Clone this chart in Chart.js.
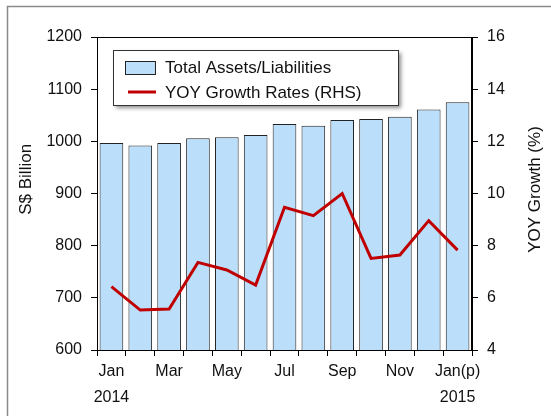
<!DOCTYPE html>
<html>
<head>
<meta charset="utf-8">
<script src="https://cdn.jsdelivr.net/npm/chart.js@4.4.1/dist/chart.umd.min.js"></script>
<style>
  html, body { margin: 0; padding: 0; background: #fff; }
  #wrap { width: 551px; height: 416px; }
</style>
</head>
<body>
<div id="wrap"><canvas id="chart" width="551" height="416"></canvas></div>
<script>
// months shown on the x axis
const months = ['Jan', 'Feb', 'Mar', 'Apr', 'May', 'Jun', 'Jul', 'Aug', 'Sep', 'Oct', 'Nov', 'Dec', 'Jan(p)'];
const years = ['2014', '', '', '', '', '', '', '', '', '', '', '', '2015'];

// S$ billion
const totalAssets = [997, 992, 997, 1006, 1008, 1012, 1033, 1030, 1041, 1043, 1047, 1061, 1075];
// percent, right hand side
const yoyGrowth = [6.43, 5.53, 5.57, 7.36, 7.07, 6.49, 9.47, 9.15, 10.0, 7.51, 7.64, 8.96, 7.83];

const barLabel = 'Total Assets/Liabilities';
const lineLabel = 'YOY Growth Rates (RHS)';
const leftTitle = 'S$ Billion';
const rightTitle = 'YOY Growth (%)';

const barFill = '#BBDFFB';
const barEdge = '#222';
const lineColor = '#C00000';
const textColor = '#111';
const fontFamily = '"Liberation Sans", Arial, sans-serif';

Chart.defaults.font.family = fontFamily;
Chart.defaults.color = textColor;

// outer frame, plot frame, right axis title and the boxed legend
const decor = {
  id: 'decor',
  beforeDraw(chart) {
    const ctx = chart.ctx;
    ctx.save();
    ctx.strokeStyle = '#8a8a8a';
    ctx.lineWidth = 1.5;
    ctx.strokeRect(7.5, 6.5, 700, 600);
    ctx.restore();
  },
  afterDatasetsDraw(chart) {
    const ctx = chart.ctx;
    const a = chart.chartArea;
    ctx.save();
    ctx.strokeStyle = '#000';
    ctx.lineWidth = 1;
    ctx.strokeRect(Math.round(a.left) + 0.5, Math.round(a.top) + 0.5,
      Math.round(a.right - a.left) - 1, Math.round(a.bottom - a.top));

    // right axis title, reading upwards like the left one
    const yR = chart.scales.yR;
    ctx.save();
    ctx.translate(535, (yR.top + yR.bottom) / 2 - 4);
    ctx.rotate(-Math.PI / 2);
    ctx.fillStyle = textColor;
    ctx.font = '17px ' + fontFamily;
    ctx.textAlign = 'center';
    ctx.textBaseline = 'middle';
    ctx.fillText(rightTitle, 0, 0);
    ctx.restore();

    // legend box
    const bx = 113, by = 50, bw = 285, bh = 55;
    ctx.shadowColor = 'rgba(0,0,0,0.45)';
    ctx.shadowBlur = 4;
    ctx.shadowOffsetX = 3;
    ctx.shadowOffsetY = 3;
    ctx.fillStyle = '#fff';
    ctx.fillRect(bx, by, bw, bh);
    ctx.shadowColor = 'transparent';
    ctx.strokeStyle = '#333';
    ctx.strokeRect(bx + 0.5, by + 0.5, bw, bh);

    const ds = chart.data.datasets;
    const bars = ds.find(d => d.type === 'bar');
    const line = ds.find(d => d.type === 'line');

    ctx.fillStyle = bars.backgroundColor;
    ctx.fillRect(125, 61, 30, 13);
    ctx.strokeStyle = bars.borderColor;
    ctx.strokeRect(125.5, 61.5, 30, 13);

    ctx.strokeStyle = line.borderColor;
    ctx.lineWidth = 3;
    ctx.beginPath();
    ctx.moveTo(128, 92);
    ctx.lineTo(156, 92);
    ctx.stroke();

    ctx.fillStyle = textColor;
    ctx.font = '17px ' + fontFamily;
    ctx.textBaseline = 'middle';
    ctx.textAlign = 'left';
    ctx.fillText(bars.label, 165, 68);
    ctx.fillText(line.label, 165, 93);
    ctx.restore();
  }
};

new Chart(document.getElementById('chart'), {
  data: {
    labels: months.map((m, i) => years[i] ? [m, years[i]] : m),
    datasets: [
      {
        type: 'line',
        label: lineLabel,
        data: yoyGrowth,
        yAxisID: 'yR',
        borderColor: lineColor,
        borderWidth: 3,
        pointRadius: 0,
        tension: 0,
        order: 0
      },
      {
        type: 'bar',
        label: barLabel,
        data: totalAssets,
        yAxisID: 'yL',
        backgroundColor: barFill,
        borderColor: barEdge,
        borderWidth: 1,
        barPercentage: 0.82,
        categoryPercentage: 1,
        order: 1
      }
    ]
  },
  options: {
    responsive: false,
    animation: false,
    devicePixelRatio: 1,
    layout: { padding: { top: 37, left: 0, right: 0, bottom: 0 } },
    plugins: { legend: { display: false }, tooltip: { enabled: false } },
    scales: {
      x: {
        offset: true,
        grid: { display: true, drawOnChartArea: false, tickLength: 6, color: '#000' },
        border: { color: '#000' },
        ticks: {
          autoSkip: false,
          maxRotation: 0,
          padding: 2,
          font: { size: 16, lineHeight: 1.65 },
          callback: function (v, i) {
            return i % 2 === 0 ? this.getLabelForValue(v) : '';
          }
        },
        afterFit: s => { s.height = 66; }
      },
      yL: {
        position: 'left',
        min: 600,
        max: 1200,
        grid: { display: true, drawOnChartArea: false, tickLength: 6, color: '#000' },
        border: { color: '#000' },
        ticks: { stepSize: 100, padding: 9, font: { size: 16 }, callback: v => String(v) },
        title: {
          display: true,
          text: '      ' + leftTitle,
          font: { size: 17 },
          padding: { top: 16, bottom: 0 }
        },
        afterFit: s => { s.width = 97; }
      },
      yR: {
        position: 'right',
        min: 4,
        max: 16,
        grid: { display: true, drawOnChartArea: false, tickLength: 6, color: '#000' },
        border: { color: '#000' },
        ticks: { stepSize: 2, padding: 9, font: { size: 16 }, callback: v => String(v) },
        afterFit: s => { s.width = 79; }
      }
    }
  },
  plugins: [decor]
});
</script>
</body>
</html>
